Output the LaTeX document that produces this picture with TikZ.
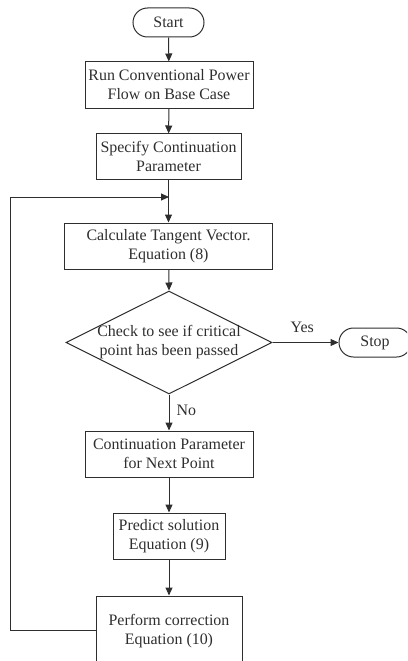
\documentclass[tikz,border=0pt]{standalone}
\usepackage{fontspec}
\setmainfont{Liberation Serif}
\usetikzlibrary{shapes.misc,shapes.geometric,arrows.meta}
\definecolor{ln}{HTML}{2e2e2e}
\tikzset{
  box/.style={draw=ln,line width=1bp,rectangle,inner sep=0pt,align=center,text=ln,font=\fontsize{16}{19}\selectfont},
  term/.style={draw=ln,line width=1bp,rounded rectangle,inner sep=0pt,text=ln,font=\fontsize{16}{19}\selectfont},
  lbl/.style={text=ln,inner sep=0pt,font=\fontsize{16}{19}\selectfont},
  arr/.style={draw=ln,line width=1bp,-{Triangle[length=8bp,width=7bp]}}
}
\begin{document}
\begin{tikzpicture}[x=1bp,y=-1bp]
\clip (0,0) rectangle (407,661);
\node[term,minimum width=71bp,minimum height=29bp] (start) at (168.5,22.5) {Start};
\node[box,minimum width=168bp,minimum height=46bp] (b1) at (169,85) {Run Conventional Power\\Flow on Base Case};
\node[box,minimum width=145bp,minimum height=45bp] (b2) at (168.5,156.5) {Specify Continuation\\Parameter};
\node[box,minimum width=207bp,minimum height=46bp] (b3) at (168.5,246) {Calculate Tangent Vector.\\Equation (8)};
\node[draw=ln,line width=1bp,diamond,inner sep=0pt,minimum width=206bp,minimum height=103bp] (d) at (169,342.5) {};
\node[lbl,align=center] (dt) at (169,342.5) {Check to see if critical\\point has been passed};
\node[term,minimum width=72bp,minimum height=29bp] (stop) at (375,342.5) {Stop};
\node[box,minimum width=168bp,minimum height=46bp] (b4) at (169,454) {Continuation Parameter\\for Next Point};
\node[box,minimum width=112bp,minimum height=46bp] (b5) at (169,536) {Predict solution\\Equation (9)};
\node[box,minimum width=146bp,minimum height=70bp] (b6) at (169,631) {Perform correction\\Equation (10)};
\coordinate (j) at (169,197);
\coordinate (c1) at (10,630);
\coordinate (c2) at (10,197);
\draw[arr] (start) -- (b1);
\draw[arr] (b1) -- (b2);
\draw[arr] (b2) -- (b3);
\draw[arr] (b3) -- (d.north);
\draw[arr] (d.east) -- node[lbl,above=9bp,pos=0.45] (yes) {Yes} (stop.west);
\draw[arr] (d.south) -- node[lbl,right=7bp,pos=0.45] (no) {No} (b4.north);
\draw[arr] (b4) -- (b5);
\draw[arr] (b5) -- (b6);
\draw[arr] (b6.west |- c1) -- (c1) -- (c2) -- (j);
\end{tikzpicture}
\end{document}
